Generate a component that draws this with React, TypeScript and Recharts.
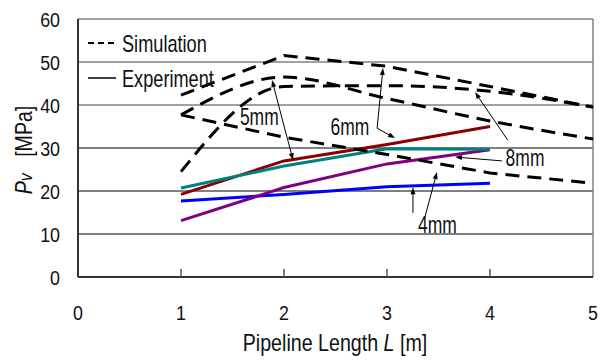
import React from "react";
import {
  LineChart,
  Line,
  XAxis,
  YAxis,
  ReferenceLine,
  ReferenceDot,
} from "recharts";

// pipeline length [m]
const lengths = [1, 2, 3, 4, 5];

// simulation (dashed) per nozzle diameter
const sim4mm = [37.7, 32.5, 28.5, 24.2, 21.8];
const sim5mm = [37.7, 46.5, 41.5, 36.3, 32.1];
const sim6mm = [42.3, 51.5, 49.0, 44.3, 39.5];
const sim8mm = [24.5, 44.3, 44.5, 43.2, 39.5];

// experiment (solid), measured up to 4 m
const exp4mm = [17.7, 19.2, 21.0, 21.8];
const exp5mm = [19.2, 27.0, 30.8, 35.0];
const exp6mm = [20.7, 25.8, 29.8, 29.7];
const exp8mm = [13.1, 20.8, 26.3, 29.6];

const xTicks = [0, 1, 2, 3, 4, 5];
const yTicks = [0, 10, 20, 30, 40, 50, 60];

// annotation labels and arrows (data units)
const noteLabels = [
  { text: "5mm", x: 1.76, y: 37.2 },
  { text: "6mm", x: 2.64, y: 34.8 },
  { text: "8mm", x: 4.34, y: 27.7 },
  { text: "4mm", x: 3.49, y: 12.1 },
];
const noteArrows = [
  { from: [1.985, 36.5], to: [1.884, 45.8] },
  { from: [1.985, 36.5], to: [2.088, 27.2] },
  { from: [2.904, 34.6], to: [2.961, 48.6] },
  { from: [2.904, 34.6], to: [3.078, 32.3] },
  { from: [4.173, 31.8], to: [3.854, 43.0] },
  { from: [4.116, 27.0], to: [3.66, 27.9] },
  { from: [3.252, 14.9], to: [3.252, 20.9] },
  { from: [3.369, 14.0], to: [3.485, 24.4] },
];

const FONT = "'Liberation Sans', Arial, sans-serif";

const data = lengths.map((x, i) => ({
  x,
  sim4: sim4mm[i],
  sim5: sim5mm[i],
  sim6: sim6mm[i],
  sim8: sim8mm[i],
  exp4: exp4mm[i],
  exp5: exp5mm[i],
  exp6: exp6mm[i],
  exp8: exp8mm[i],
}));

// the original uses a narrow face, so Arial is squeezed horizontally
function NText({ x, y, anchor = "start", size = 21, squeeze = 0.85, rotate = 0, children }: any) {
  return (
    <g transform={`translate(${x},${y}) rotate(${rotate}) scale(${squeeze},1)`}>
      <text x={0} y={0} textAnchor={anchor} fontSize={size} fontFamily={FONT} fill="#111">
        {children}
      </text>
    </g>
  );
}

function XTick({ x, y, payload }: any) {
  const v = payload.value;
  return (
    <g>
      {v > 0 && v < 5 && (
        <line x1={x} y1={y - 8} x2={x} y2={y} stroke="#555" strokeWidth={1.5} />
      )}
      <NText x={x} y={y + 43} anchor="middle">{v}</NText>
    </g>
  );
}

function YTick({ x, y, payload }: any) {
  return (
    <NText x={x - 18} y={y + 7.5} anchor="end">{payload.value}</NText>
  );
}

function Arrow(props: any) {
  const { x1, y1, x2, y2 } = props;
  if ([x1, y1, x2, y2].some((v) => v == null || isNaN(v))) return null;
  const ang = Math.atan2(y2 - y1, x2 - x1);
  const len = 7;
  const w = 2.5;
  const bx = x2 - len * Math.cos(ang);
  const by = y2 - len * Math.sin(ang);
  const px = -Math.sin(ang) * w;
  const py = Math.cos(ang) * w;
  return (
    <g>
      <line x1={x1} y1={y1} x2={bx} y2={by} stroke="#000" strokeWidth={1} />
      <polygon points={`${x2},${y2} ${bx + px},${by + py} ${bx - px},${by - py}`} fill="#000" />
    </g>
  );
}

function XTitle({ viewBox }: any) {
  const cx = viewBox.x + viewBox.width / 2 - 0.5;
  return (
    <NText x={cx} y={351} anchor="middle" size={23} squeeze={0.855}>
      Pipeline Length <tspan fontStyle="italic">L</tspan> [m]
    </NText>
  );
}

export default function App() {
  return (
    <div style={{ position: "absolute", left: 0, top: 0, width: 608, height: 363, background: "#fff" }}>
      <LineChart width={608} height={363} data={data} margin={{ top: 19, right: 15, left: 0, bottom: 0 }}>
        <XAxis
          dataKey="x"
          type="number"
          domain={[0, 5]}
          ticks={xTicks}
          height={86}
          tickLine={false}
          tickSize={0}
          tickMargin={0}
          tick={<XTick />}
          axisLine={{ stroke: "#333", strokeWidth: 2 }}
          label={{ content: <XTitle /> }}
        />
        <YAxis
          type="number"
          domain={[0, 60]}
          ticks={yTicks}
          width={78}
          tickLine={false}
          tickSize={0}
          tickMargin={0}
          tick={<YTick />}
          axisLine={{ stroke: "#333", strokeWidth: 2 }}
        />
        <ReferenceLine y={10} stroke="#000" strokeWidth={1} />
        <ReferenceLine y={20} stroke="#000" strokeWidth={1} />
        <ReferenceLine y={30} stroke="#808080" strokeWidth={2} />
        <ReferenceLine y={40} stroke="#808080" strokeWidth={1.5} />
        <ReferenceLine y={50} stroke="#808080" strokeWidth={1.5} />
        <ReferenceLine y={60} stroke="#808080" strokeWidth={1.5} />
        <ReferenceLine x={5} stroke="#808080" strokeWidth={1.5} />

        <Line type="linear" dataKey="exp4" stroke="#0000ff" strokeWidth={3} dot={false} isAnimationActive={false} />
        <Line type="linear" dataKey="exp8" stroke="#800080" strokeWidth={3} dot={false} isAnimationActive={false} />
        <Line type="linear" dataKey="exp5" stroke="#8b0000" strokeWidth={3} dot={false} isAnimationActive={false} />
        <Line type="linear" dataKey="exp6" stroke="#008080" strokeWidth={3} dot={false} isAnimationActive={false} />

        <Line type="linear" dataKey="sim4" stroke="#000" strokeWidth={3} strokeDasharray="14 8" dot={false} isAnimationActive={false} />
        <Line type="monotone" dataKey="sim5" stroke="#000" strokeWidth={3} strokeDasharray="14 8" dot={false} isAnimationActive={false} />
        <Line type="linear" dataKey="sim6" stroke="#000" strokeWidth={3} strokeDasharray="14 8" dot={false} isAnimationActive={false} />
        <Line type="monotone" dataKey="sim8" stroke="#000" strokeWidth={3} strokeDasharray="14 8" dot={false} isAnimationActive={false} />

        {noteArrows.map((a, i) => (
          <ReferenceLine
            key={"a" + i}
            segment={[
              { x: a.from[0], y: a.from[1] },
              { x: a.to[0], y: a.to[1] },
            ]}
            shape={<Arrow />}
          />
        ))}
        {noteLabels.map((n) => (
          <ReferenceDot
            key={n.text}
            x={n.x}
            y={n.y}
            r={0}
            shape={(p: any) => (
              <NText x={p.cx} y={p.cy + 8} anchor="middle" size={23} squeeze={0.76}>
                {n.text}
              </NText>
            )}
          />
        ))}
      </LineChart>

      {/* y axis title and legend */}
      <svg width={608} height={363} style={{ position: "absolute", left: 0, top: 0, pointerEvents: "none" }}>
        <NText x={32} y={150} anchor="middle" size={23} rotate={-90}>
          <tspan fontStyle="italic">P</tspan>
          <tspan fontStyle="italic" fontSize={19}>v</tspan>
          <tspan>{"\u00a0\u00a0\u00a0[MPa]"}</tspan>
        </NText>

        <line x1={88} y1={43} x2={116} y2={43} stroke="#000" strokeWidth={2} strokeDasharray="6 4" />
        <NText x={122} y={51.5} size={23} squeeze={0.79}>Simulation</NText>
        <line x1={88} y1={78} x2={116} y2={78} stroke="#000" strokeWidth={1.5} />
        <NText x={122} y={86.5} size={23} squeeze={0.79}>Experiment</NText>
      </svg>
    </div>
  );
}
